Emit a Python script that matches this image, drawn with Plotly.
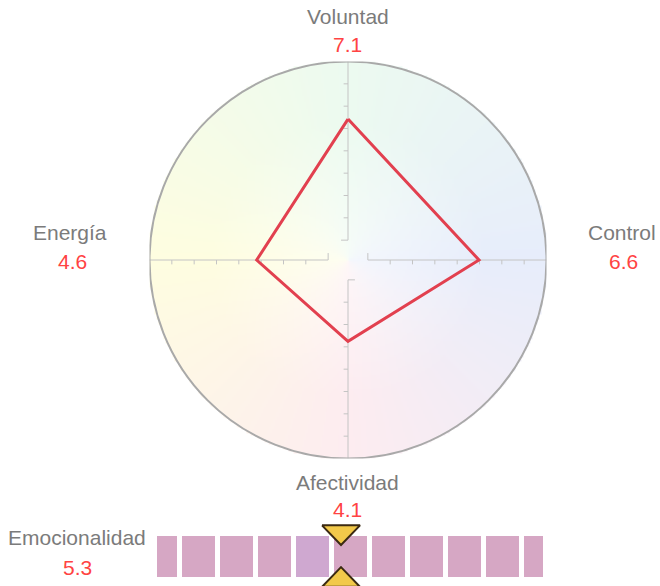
import numpy as np
import plotly.graph_objects as go

# ---------------- data ----------------
AXIS_NAMES = ["Voluntad", "Control", "Afectividad", "Energía"]
AXIS_VALUES = [7.1, 6.6, 4.1, 4.6]
AXIS_ANGLES = [90, 0, 270, 180]          # direction of each axis (degrees)
SCALE_MAX = 10

EMO_NAME = "Emocionalidad"
EMO_VALUE = 5.3
STRIP_CELLS = list(range(11))

# ---------------- layout constants ----------------
W, H = 660, 586
CX, CY, RPX = 348, 260, 198.5
LABEL_COLOR = "#7b7b7b"
VALUE_COLOR = "#ff4343"
FONT = "Liberation Sans, Arial, sans-serif"
FS = 21

# label (name centre, value centre) positions in pixels
LABEL_POS = {
    "Voluntad": ((348, 17), (348, 44)),
    "Control": ((622, 232), (623, 261)),
    "Energía": ((70, 232), (72, 261)),
    "Afectividad": ((347, 482), (347, 509)),
    "Emocionalidad": ((77, 537), (77, 567)),
}

fig = go.Figure()

# ---- background conic gradient (decoration) ----
N = 220
d = 2 * SCALE_MAX / N
coords = -SCALE_MAX + d / 2 + d * np.arange(N)
XX, YY = np.meshgrid(coords, coords)
ang = (np.degrees(np.arctan2(YY, XX)) + 360) % 360
rr = np.hypot(XX, YY) / SCALE_MAX
anchor_ang = np.array([0, 90, 180, 270, 360])
anchor_col = np.array([
    [231, 237, 251],   # right  - blue
    [236, 250, 240],   # top    - mint
    [254, 253, 224],   # left   - yellow
    [253, 236, 240],   # bottom - pink
    [231, 237, 251],
], dtype=float)
cols = np.stack([np.interp(ang, anchor_ang, anchor_col[:, c]) for c in range(3)], axis=-1)
t = np.clip(0.45 + 0.8 * rr, 0, 1)[..., None]
cols = 255 * (1 - t) + cols * t
alpha = np.where(rr <= 1.005, 255, 0)[..., None]
img = np.concatenate([cols, alpha], axis=-1).round().astype(int)
fig.add_trace(go.Image(z=img.tolist(), colormodel="rgba", x0=coords[0], dx=d,
                       y0=coords[0], dy=d, hoverinfo="skip", zsmooth="fast",
                       xaxis="x", yaxis="y"))

# ---- axis segments with ticks ----
R0, STEP, NT = 1.0, 1.125, 8
TICK = 0.22
ax_x, ax_y = [], []
for a in AXIS_ANGLES:
    ux, uy = np.cos(np.radians(a)), np.sin(np.radians(a))
    if abs(ux) < 0.5:
        px_, py_ = -1, 0
    else:
        px_, py_ = 0, -1
    r_end = R0 + STEP * NT
    ax_x += [R0 * ux, r_end * ux, None]
    ax_y += [R0 * uy, r_end * uy, None]
    for k in range(1, NT):
        r = R0 + STEP * k
        ax_x += [r * ux, r * ux + px_ * TICK, None]
        ax_y += [r * uy, r * uy + py_ * TICK, None]
    if a == 90:
        ex, ey = -1, 0
    elif a == 270:
        ex, ey = 1, 0
    else:
        ex, ey = 0, 1
    ax_x += [R0 * ux, R0 * ux + ex * 0.35, None]
    ax_y += [R0 * uy, R0 * uy + ey * 0.35, None]
fig.add_trace(go.Scatter(x=ax_x, y=ax_y, mode="lines", line=dict(color="#c4c4c4", width=1),
                         hoverinfo="skip", showlegend=False, xaxis="x", yaxis="y"))

# ---- profile polygon ----
px = [v * np.cos(np.radians(a)) for v, a in zip(AXIS_VALUES, AXIS_ANGLES)]
py = [v * np.sin(np.radians(a)) for v, a in zip(AXIS_VALUES, AXIS_ANGLES)]
fig.add_trace(go.Scatter(x=px + px[:1], y=py + py[:1], mode="lines",
                         line=dict(color="#e2404f", width=3), hoverinfo="skip",
                         showlegend=False, xaxis="x", yaxis="y"))

# ---- outer circle ----
fig.add_shape(type="circle", xref="x", yref="y", x0=-SCALE_MAX, y0=-SCALE_MAX,
              x1=SCALE_MAX, y1=SCALE_MAX, line=dict(color="#a9a9a9", width=2), layer="above")

# ---- emotionality strip ----
CELL_OFF, CELL_W = 0.55, 0.87
cell_colors = ["#d6a7c4"] * len(STRIP_CELLS)
cell_colors[4] = "#cfa8d0"
fig.add_trace(go.Bar(x=[c + CELL_OFF for c in STRIP_CELLS], y=[1] * len(STRIP_CELLS),
                     width=CELL_W, marker=dict(color=cell_colors, line=dict(width=0)),
                     hoverinfo="skip", showlegend=False, xaxis="x2", yaxis="y2"))
TRI_HALF = 0.5
fig.add_trace(go.Scatter(x=[EMO_VALUE - TRI_HALF, EMO_VALUE + TRI_HALF, EMO_VALUE, EMO_VALUE - TRI_HALF],
                         y=[1.26, 1.26, 0.78, 1.26], mode="lines", fill="toself",
                         fillcolor="#f2c94a", line=dict(color="#3b2a12", width=2),
                         hoverinfo="skip", showlegend=False, xaxis="x2", yaxis="y2"))
fig.add_trace(go.Scatter(x=[EMO_VALUE - TRI_HALF, EMO_VALUE + TRI_HALF, EMO_VALUE, EMO_VALUE - TRI_HALF],
                         y=[-0.24, -0.24, 0.24, -0.24], mode="lines", fill="toself",
                         fillcolor="#f2c94a", line=dict(color="#3b2a12", width=2),
                         hoverinfo="skip", showlegend=False, xaxis="x2", yaxis="y2"))

# ---- labels ----
ann = []
names = AXIS_NAMES + [EMO_NAME]
vals = AXIS_VALUES + [EMO_VALUE]
for n, v in zip(names, vals):
    (lx, ly), (vx, vy) = LABEL_POS[n]
    ann.append(dict(x=lx / W, y=1 - ly / H, xref="paper", yref="paper", text=n,
                    showarrow=False, xanchor="center", yanchor="middle",
                    font=dict(family=FONT, size=FS, color=LABEL_COLOR)))
    ann.append(dict(x=vx / W, y=1 - vy / H, xref="paper", yref="paper", text=f"{v:.1f}",
                    showarrow=False, xanchor="center", yanchor="middle",
                    font=dict(family=FONT, size=FS, color=VALUE_COLOR)))

STRIP_L, STRIP_R, MARK_PX = 157, 543, 341
PER = 38.0
x2_range = [EMO_VALUE - (MARK_PX - STRIP_L) / PER, EMO_VALUE + (STRIP_R - MARK_PX) / PER]

fig.update_layout(
    width=W, height=H, margin=dict(l=0, r=0, t=0, b=0),
    paper_bgcolor="white", plot_bgcolor="rgba(0,0,0,0)",
    showlegend=False, bargap=0,
    annotations=ann,
    xaxis=dict(domain=[(CX - RPX) / W, (CX + RPX) / W], range=[-SCALE_MAX, SCALE_MAX],
               visible=False, fixedrange=True),
    yaxis=dict(domain=[1 - (CY + RPX) / H, 1 - (CY - RPX) / H], range=[-SCALE_MAX, SCALE_MAX],
               visible=False, fixedrange=True, autorange=False, scaleanchor="x", scaleratio=1),
    xaxis2=dict(domain=[STRIP_L / W, STRIP_R / W], range=x2_range, visible=False,
                anchor="y2", fixedrange=True),
    yaxis2=dict(domain=[0, (586 - 518) / H], range=[-0.22, 1.44], visible=False,
                anchor="x2", fixedrange=True),
)

fig.write_html("out.html", config={"displayModeBar": False},
               post_script="document.body.style.margin='0';document.body.style.overflow='hidden';")
